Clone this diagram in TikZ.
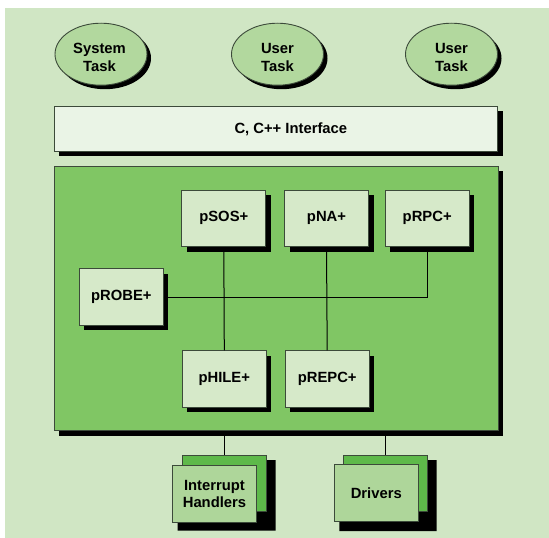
\documentclass[tikz,border=0pt]{standalone}
\usepackage{fontspec}
\setmainfont{Liberation Sans}
\usetikzlibrary{shapes.geometric,shadows}
\definecolor{bgc}{HTML}{D0E6C4}
\definecolor{mainc}{HTML}{80C664}
\definecolor{modc}{HTML}{D6E9C9}
\definecolor{ellc}{HTML}{B2D89E}
\definecolor{ifc}{HTML}{EAF4E6}
\definecolor{backc}{HTML}{5EB94A}
\definecolor{frontc}{HTML}{AED69A}
\definecolor{edgec}{HTML}{3C4A3A}
\tikzset{
  lbl/.style={font=\bfseries\fontsize{14.8}{17.6}\selectfont, align=center, text=black},
  shad/.style={drop shadow={shadow xshift=5pt, shadow yshift=-5pt, fill=black, opacity=1}},
  modbox/.style={lbl, rectangle, draw=edgec, line width=0.9pt, fill=modc,
    minimum width=84pt, minimum height=56.5pt, inner sep=0pt, shad},
  taskell/.style={ellipse, draw=edgec, line width=0.9pt, fill=ellc,
    minimum width=92pt, minimum height=62pt, inner sep=0pt,
    drop shadow={shadow xshift=4pt, shadow yshift=-4pt, fill=black, opacity=1}},
  conn/.style={draw=black, line width=1pt},
  stackback/.style={rectangle, draw=edgec, line width=0.9pt, fill=backc,
    minimum width=84pt, minimum height=56.5pt, inner sep=0pt},
  stackfront/.style={lbl, rectangle, draw=edgec, line width=0.9pt, fill=frontc,
    minimum width=84pt, minimum height=56.5pt, inner sep=0pt},
}
\begin{document}
\begin{tikzpicture}[x=1pt, y=-1pt]
\useasboundingbox (0,0) rectangle (549,538);
\fill[bgc] (5,8) rectangle (549,538);

% tasks
\node[taskell] (sys) at (101,54.2) {};
\node[lbl] (systxt) at ([xshift=-1.5pt,yshift=-3.5pt]sys.center) {System\\Task};
\node[taskell] (ut1) at (277.5,54.2) {};
\node[lbl] (ut1txt) at ([yshift=-3.5pt]ut1.center) {User\\Task};
\node[taskell] (ut2) at (451.5,54.2) {};
\node[lbl] (ut2txt) at ([yshift=-3.5pt]ut2.center) {User\\Task};

% interface
\node[rectangle, draw=edgec, line width=0.9pt, fill=ifc, shad,
  minimum width=443.7pt, minimum height=45pt, inner sep=0pt] (iface) at (275.85,128.5) {};
\node[lbl] (ifacetxt) at ([xshift=15pt,yshift=-1pt]iface.center) {C, C++ Interface};

% main box
\node[rectangle, draw=edgec, line width=0.9pt, fill=mainc, shad,
  minimum width=444pt, minimum height=264.5pt, inner sep=0pt] (core) at (276,298.25) {};

% modules
\node[modbox] (psos) at (223.8,218.3) {pSOS+};
\node[modbox] (pna) at (326.5,218.3) {pNA+};
\node[modbox] (prpc) at (427.2,218.3) {pRPC+};
\node[modbox] (probe) at (121.3,297) {pROBE+};
\node[modbox] (phile) at (224.3,379) {pHILE+};
\node[modbox] (prepc) at (327.2,379) {pREPC+};

\coordinate (jn) at (prpc.south |- probe.east);
\draw[conn] (psos.south) -- (phile.north);
\draw[conn] (pna.south) -- (prepc.north);
\draw[conn] (probe.east) -- (jn) -- (prpc.south);

% stacked boxes: Interrupt Handlers
\coordinate (ihb) at (224.5,483.35);
\coordinate (ihf) at (214.5,492.35);
\fill[black] ([shift={(5,5)}]ihb) ++(-42,-28.25) -- ++(88,0) -- ++(0,70.5) -- ++(-98,0) -- ++(0,-60) -- cycle;
\node[stackback] (ihback) at (ihb) {};
\node[stackfront] (ihfront) at ([yshift=-1.5pt]ihf) {Interrupt\\Handlers};

% stacked boxes: Drivers
\coordinate (drb) at (385.5,483.35);
\coordinate (drf) at (376.3,492.85);
\fill[black] ([shift={(5,5)}]drb) ++(-42,-28.25) -- ++(88,0) -- ++(0,71) -- ++(-97.2,0) -- ++(0,-60) -- cycle;
\node[stackback] (drback) at (drb) {};
\node[stackfront] (drfront) at (drf) {Drivers};

\draw[conn] (ihback.north |- core.south) -- (ihback.north);
\draw[conn] (drback.north |- core.south) -- (drback.north);
\end{tikzpicture}
\end{document}
